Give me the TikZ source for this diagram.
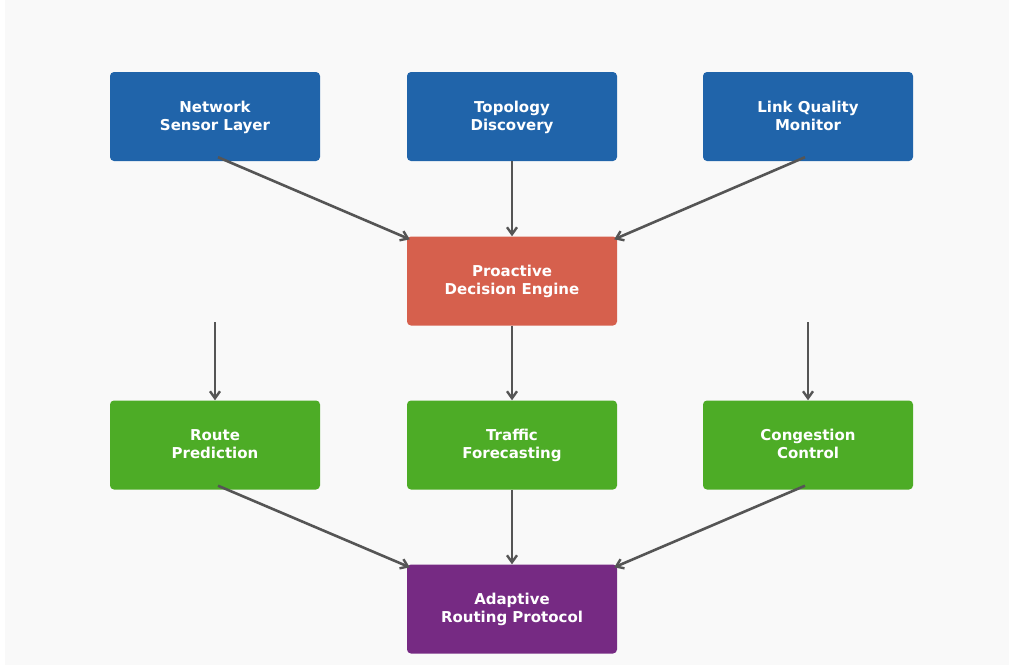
\documentclass[tikz,border=0pt]{standalone}
\usepackage{fontspec}
\setmainfont{DejaVu Sans}
\usetikzlibrary{arrows.meta,calc}
\definecolor{bgc}{HTML}{F9F9F9}
\definecolor{cblue}{HTML}{2064AA}
\definecolor{cred}{HTML}{D6604D}
\definecolor{cgreen}{HTML}{4DAC26}
\definecolor{cpurple}{HTML}{762A83}
\definecolor{carrow}{HTML}{555555}
\newcommand{\mystr}{\rule[-4.4pt]{0pt}{18pt}}
\tikzset{
  box/.style={rounded corners=4pt, minimum width=210pt, minimum height=89pt, inner sep=0pt,
    text=white, align=center, font=\fontsize{15pt}{18pt}\selectfont\bfseries},
  conn/.style={draw=carrow, line width=2.6pt, -{Straight Barb[length=7pt,width=10pt,line width=2.4pt]}}
}
\begin{document}
\begin{tikzpicture}[x=1pt,y=-1pt]
\fill[white] (0,0) rectangle (1009,665);
\fill[bgc] (5,0) rectangle (1009,665);
\useasboundingbox (0,0) rectangle (1009,665);
\node[box, fill=cblue] (nsl) at (215,116.5) {\mystr Network\\\mystr Sensor Layer};
\node[box, fill=cblue] (td) at (512,116.5) {\mystr Topology\\\mystr Discovery};
\node[box, fill=cblue] (lqm) at (808,116.5) {\mystr Link Quality\\\mystr Monitor};
\node[box, fill=cred] (pde) at (512,281) {\mystr Proactive\\\mystr Decision Engine};
\node[box, fill=cgreen] (rp) at (215,445) {\mystr Route\\\mystr Prediction};
\node[box, fill=cgreen] (tf) at (512,445) {\mystr Traffic\\\mystr Forecasting};
\node[box, fill=cgreen] (cc) at (808,445) {\mystr Congestion\\\mystr Control};
\node[box, fill=cpurple] (arp) at (512,609) {\mystr Adaptive\\\mystr Routing Protocol};
\coordinate (l1) at (215,322);
\coordinate (r1) at (808,322);
\draw[conn] ($(nsl.south)+(3,-4)$) -- ($(pde.north west)+(3,3)$);
\draw[conn] (td.south) -- (pde.north);
\draw[conn] ($(lqm.south)+(-3,-4)$) -- ($(pde.north east)+(-3,3)$);
\draw[conn] (l1) -- (rp.north);
\draw[conn] (pde.south) -- (tf.north);
\draw[conn] (r1) -- (cc.north);
\draw[conn] ($(rp.south)+(3,-4)$) -- ($(arp.north west)+(3,3)$);
\draw[conn] (tf.south) -- (arp.north);
\draw[conn] ($(cc.south)+(-3,-4)$) -- ($(arp.north east)+(-3,3)$);
\end{tikzpicture}
\end{document}
